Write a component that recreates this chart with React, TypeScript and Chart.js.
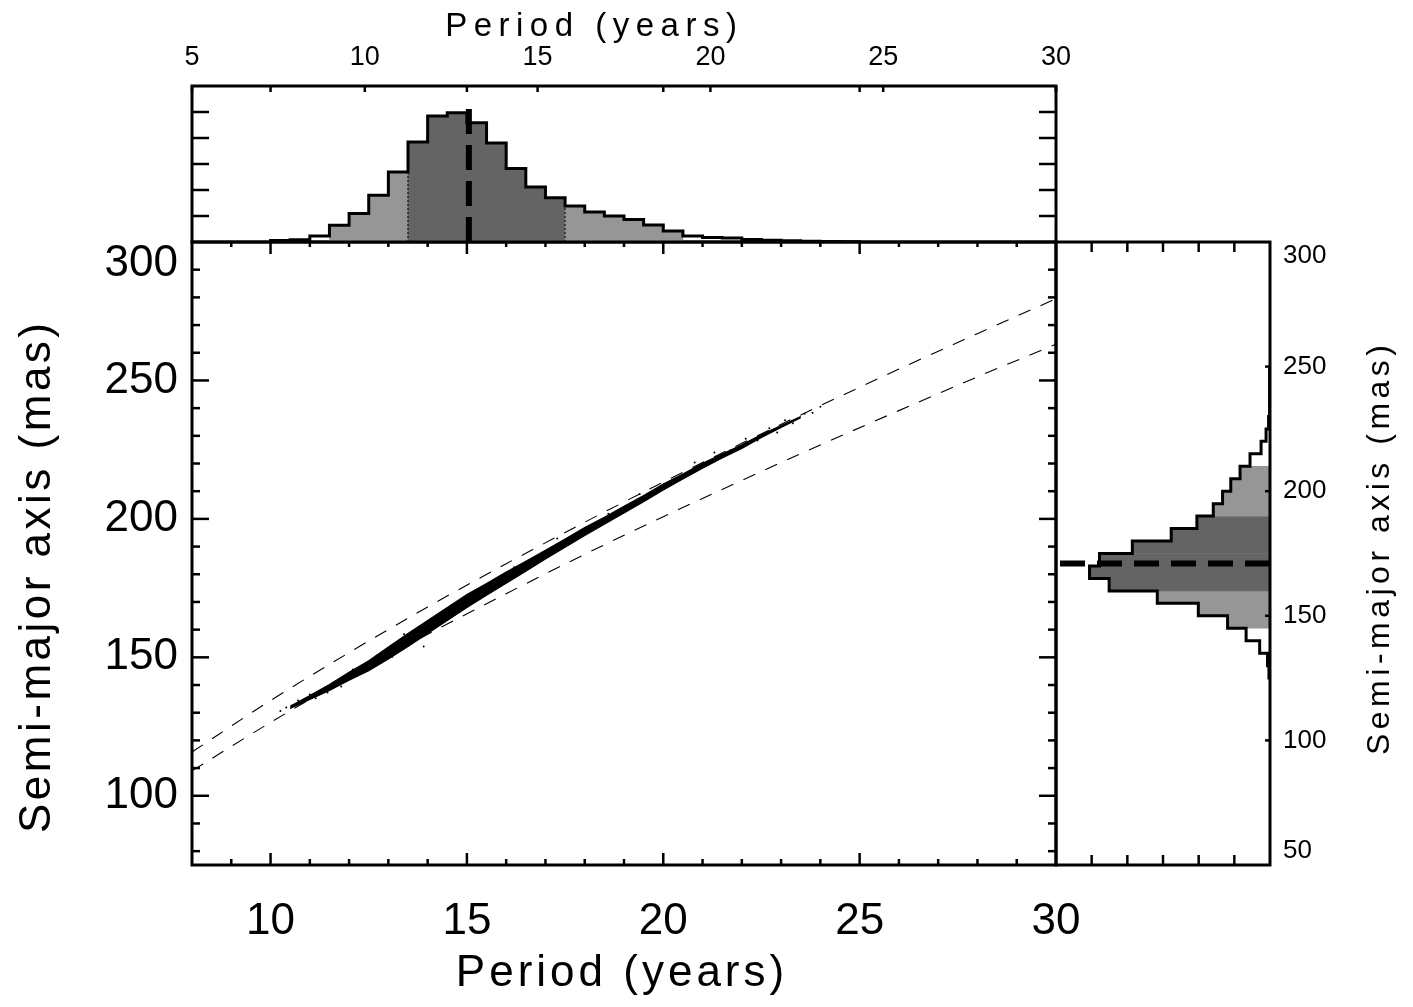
import React, { useEffect, useRef } from 'react';
import { Chart, registerables } from 'chart.js';

Chart.register(...registerables);

const W = 1413;
const H = 1007;
const FONT = '"Liberation Sans", Arial, sans-serif';
const DARK = '#646464';
const LIGHT = '#969696';

// ---------------- data ----------------
// top histogram: period (years), bins of 0.5 yr (lower edges), normalised counts
const periodBinStart = [10.0, 10.5, 11.0, 11.5, 12.0, 12.5, 13.0, 13.5, 14.0, 14.5, 15.0, 15.5, 16.0, 16.5, 17.0, 17.5, 18.0, 18.5, 19.0, 19.5, 20.0, 20.5, 21.0, 21.5, 22.0, 22.5, 23.0, 23.5, 24.0, 24.5];
const periodBinWidth = 0.5;
const periodCounts = [0.06, 0.09, 0.23, 0.64, 1.10, 1.80, 2.69, 3.85, 4.85, 4.97, 4.59, 3.81, 2.83, 2.12, 1.70, 1.38, 1.15, 1.00, 0.87, 0.65, 0.42, 0.23, 0.17, 0.15, 0.10, 0.07, 0.05, 0.03, 0.02, 0.01];
const periodMedian = 15.05;
const periodMedianTop = 5.3;
const periodInner = [13.5, 17.5];
const periodOuter = [11.5, 20.5];

// right histogram: semi-major axis (mas), bins of 5 mas (lower edges)
const smaBinStart = [125, 130, 135, 140, 145, 150, 155, 160, 165, 170, 175, 180, 185, 190, 195, 200, 205, 210, 215, 220, 225, 230, 235, 240, 245];
const smaBinWidth = 5;
const smaCounts = [0.03, 0.07, 0.29, 0.67, 1.19, 2.01, 3.16, 4.51, 5.06, 4.78, 3.86, 2.77, 2.05, 1.59, 1.33, 1.10, 0.84, 0.56, 0.25, 0.11, 0.04, 0.02, 0.015, 0.01, 0.005];
const smaMedian = 171;
const smaInner = [160, 190];
const smaOuter = [145, 210];

// dashed envelope curves in the main panel
const keplerPeriods = [8, 10, 12, 14, 16, 18, 20, 22, 24, 26, 28, 30];
const keplerUpperSma = [115.8, 134.4, 151.7, 168.2, 183.8, 198.8, 213.3, 227.3, 240.9, 254.1, 266.9, 279.5];
const keplerLowerSma = [109.0, 126.5, 142.8, 158.3, 173.0, 187.2, 200.8, 213.9, 226.7, 239.1, 251.3, 263.1];

// dense sample band (upper / lower envelope)
const bandPeriods = [10.5, 11, 11.5, 12, 12.5, 13, 13.5, 14, 14.5, 15, 15.5, 16, 16.5, 17, 17.5, 18, 18.5, 19, 19.5, 20, 20.5, 21, 21.5, 22, 22.5, 23, 23.5];
const bandUpperSma = [132.3, 136.2, 140.2, 144.6, 148.8, 153.7, 158.6, 163.3, 168.0, 172.7, 176.7, 180.8, 184.7, 188.7, 192.7, 196.9, 200.6, 204.6, 208.4, 212.6, 216.2, 220.1, 223.4, 226.8, 230.5, 233.7, 237.0];
const bandLowerSma = [131.5, 134.8, 138.0, 141.7, 145.2, 149.4, 153.9, 158.6, 163.3, 168.0, 172.4, 176.8, 181.1, 185.5, 189.8, 194.0, 198.1, 202.1, 206.2, 210.4, 214.4, 218.3, 222.0, 225.4, 229.4, 233.0, 236.5];

// sparse individual samples
const sparsePeriods = [10.25, 10.4, 10.55, 10.7, 10.85, 11.0, 11.15, 11.3, 11.45, 11.6, 11.8, 12.1, 12.4, 12.7, 13.1, 13.4, 13.9, 14.3, 16.2, 17.3, 18.6, 19.4, 20.2, 20.8, 21.3, 21.7, 22.1, 22.4, 22.7, 22.9, 23.1, 23.3, 23.6, 23.8, 24.0];
const sparseSma = [130.6, 131.9, 132.6, 134.4, 133.9, 136.6, 135.2, 138.1, 137.3, 140.6, 139.5, 145.6, 144.9, 150.6, 150.2, 158.3, 153.9, 165.3, 182.5, 192.9, 201.9, 209.0, 212.8, 220.4, 224.0, 224.7, 228.9, 228.3, 232.7, 231.2, 235.6, 234.5, 238.0, 238.3, 240.5];

// tick labels
const mainXTicks = [10, 15, 20, 25, 30];
const mainYTicks = [100, 150, 200, 250, 300];
const topXTicks = [5, 10, 15, 20, 25, 30];
const rightYTicks = [50, 100, 150, 200, 250, 300];
const histCountTicks = [1, 2, 3, 4, 5];

const xTitle = 'Period (years)';
const yTitle = 'Semi-major axis (mas)';

// ---------------- helpers ----------------
const range = (a: number, b: number, s: number) => {
  const out: number[] = [];
  for (let v = a; v <= b + 1e-9; v += s) out.push(Math.round(v * 100) / 100);
  return out;
};
const mainXMinor = range(9, 29, 1);
const mainYMinor = range(80, 290, 10);

function binFill(lo: number, hi: number, inner: number[], outer: number[]) {
  if (lo >= inner[0] - 1e-9 && hi <= inner[1] + 1e-9) return DARK;
  if (lo >= outer[0] - 1e-9 && hi <= outer[1] + 1e-9) return LIGHT;
  return 'rgba(255,255,255,0)';
}

type Side = 'left' | 'right' | 'top' | 'bottom';
interface TickSet { scale: string; side: Side; values: number[]; len: (v: number) => number; }

function drawText(ctx: any, text: string, x: number, y: number, size: number, spacing: number, rotate: boolean) {
  ctx.save();
  ctx.fillStyle = '#000';
  ctx.font = `${size}px ${FONT}`;
  ctx.letterSpacing = `${spacing}px`;
  ctx.textAlign = 'center';
  ctx.textBaseline = 'middle';
  ctx.translate(x, y);
  if (rotate) ctx.rotate(-Math.PI / 2);
  ctx.fillText(text, spacing / 2, 0);
  ctx.restore();
}

function framePlugin(sets: TickSet[], titles: (ctx: any, chart: any) => void) {
  return {
    id: 'idlFrame',
    afterDatasetsDraw(chart: any) {
      const { ctx, chartArea: a } = chart;
      ctx.save();
      ctx.strokeStyle = '#000';
      ctx.lineWidth = 2.5;
      ctx.lineCap = 'butt';
      for (const t of sets) {
        const sc = chart.scales[t.scale];
        for (const v of t.values) {
          const p = sc.getPixelForValue(v);
          const L = t.len(v);
          ctx.beginPath();
          if (t.side === 'left') { ctx.moveTo(a.left, p); ctx.lineTo(a.left + L, p); }
          if (t.side === 'right') { ctx.moveTo(a.right, p); ctx.lineTo(a.right - L, p); }
          if (t.side === 'top') { ctx.moveTo(p, a.top); ctx.lineTo(p, a.top + L); }
          if (t.side === 'bottom') { ctx.moveTo(p, a.bottom); ctx.lineTo(p, a.bottom - L); }
          ctx.stroke();
        }
      }
      ctx.lineWidth = 3;
      ctx.strokeRect(a.left, a.top, a.right - a.left, a.bottom - a.top);
      ctx.restore();
    },
    afterDraw(chart: any) {
      titles(chart.ctx, chart);
    },
  };
}

const hiddenGrid = { display: false, drawTicks: false };
const noBorder = { display: false };
const baseOptions = {
  responsive: false,
  animation: false as const,
  events: [] as any[],
  devicePixelRatio: 1,
};

// ---------------- main panel ----------------
function buildMain(canvas: HTMLCanvasElement) {
  const xy = (xs: number[], ys: number[]) => xs.map((x, i) => ({ x, y: ys[i] }));
  return new Chart(canvas, {
    type: 'scatter',
    data: {
      datasets: [
        { data: xy(keplerPeriods, keplerUpperSma), showLine: true, borderColor: '#000', borderWidth: 1.1, borderDash: [13, 11], pointRadius: 0, cubicInterpolationMode: 'monotone', fill: false } as any,
        { data: xy(keplerPeriods, keplerLowerSma), showLine: true, borderColor: '#000', borderWidth: 1.1, borderDash: [13, 11], pointRadius: 0, cubicInterpolationMode: 'monotone', fill: false } as any,
        { data: xy(bandPeriods, bandUpperSma), showLine: true, borderColor: '#000', backgroundColor: '#000', borderWidth: 1.2, pointRadius: 0, fill: '+1' } as any,
        { data: xy(bandPeriods, bandLowerSma), showLine: true, borderColor: '#000', borderWidth: 1.2, pointRadius: 0, fill: false } as any,
        { data: xy(sparsePeriods, sparseSma), showLine: false, pointRadius: 1, pointBackgroundColor: '#000', pointBorderWidth: 0 } as any,
      ],
    },
    options: {
      ...baseOptions,
      layout: { padding: { left: 0, top: 242, right: W - 1056, bottom: 0 } },
      plugins: { legend: { display: false }, tooltip: { enabled: false } },
      scales: {
        x: {
          type: 'linear', min: 8, max: 30, position: 'bottom',
          afterFit: (s: any) => { s.height = H - 865; },
          afterBuildTicks: (s: any) => { s.ticks = mainXTicks.map((value) => ({ value })); },
          ticks: { autoSkip: false, maxRotation: 0, minRotation: 0, padding: 30, color: '#000', font: { family: FONT, size: 44 }, callback: (v: any) => String(v) },
          grid: hiddenGrid, border: noBorder,
        },
        y: {
          type: 'linear', min: 75, max: 300, position: 'left',
          afterFit: (s: any) => { s.width = 192; },
          afterBuildTicks: (s: any) => { s.ticks = mainYTicks.map((value) => ({ value })); },
          ticks: { autoSkip: false, padding: 14, color: '#000', font: { family: FONT, size: 44, lineHeight: 0.98 }, callback: (v: any) => (v === 300 ? ['', '300'] : String(v)) },
          grid: hiddenGrid, border: noBorder,
        },
      } as any,
    },
    plugins: [
      framePlugin(
        [
          { scale: 'x', side: 'bottom', values: mainXMinor, len: (v) => (v % 5 === 0 ? 12 : 6) },
          { scale: 'x', side: 'top', values: mainXMinor, len: (v) => (v % 5 === 0 ? 12 : 5) },
          { scale: 'y', side: 'left', values: mainYMinor, len: (v) => (v % 50 === 0 ? 17 : 8) },
          { scale: 'y', side: 'right', values: mainYMinor, len: (v) => (v % 50 === 0 ? 17 : 8) },
        ],
        (ctx) => {
          drawText(ctx, xTitle, 620, 974, 44, 4, false);
          drawText(ctx, yTitle, 38, 578, 44, 3.5, true);
        }
      ) as any,
    ],
  });
}

// ---------------- top histogram (period) ----------------
function buildTop(canvas: HTMLCanvasElement) {
  const w = periodBinWidth;
  const outline: { x: number; y: number }[] = [{ x: periodBinStart[0], y: 0 }];
  periodBinStart.forEach((s, i) => { outline.push({ x: s, y: periodCounts[i] }, { x: s + w, y: periodCounts[i] }); });
  outline.push({ x: periodBinStart[periodBinStart.length - 1] + w, y: 0 });
  const iL = periodBinStart.indexOf(periodInner[0]);
  const iR = periodBinStart.indexOf(periodInner[1]);
  const hL = Math.min(periodCounts[iL - 1], periodCounts[iL]);
  const hR = Math.min(periodCounts[iR - 1], periodCounts[iR]);
  return new Chart(canvas, {
    type: 'bar',
    data: {
      datasets: [
        {
          type: 'bar', xAxisID: 'x', yAxisID: 'y', order: 10,
          data: periodBinStart.map((s, i) => ({ x: s + w / 2, y: periodCounts[i] })),
          backgroundColor: periodBinStart.map((s) => binFill(s, s + w, periodInner, periodOuter)),
          borderWidth: 0, barPercentage: 1, categoryPercentage: 1,
        } as any,
        { type: 'scatter', order: 5, xAxisID: 'x', yAxisID: 'y', data: [{ x: periodInner[0], y: 0 }, { x: periodInner[0], y: hL }], showLine: true, borderColor: '#000', borderWidth: 1, borderDash: [2, 2], pointRadius: 0 } as any,
        { type: 'scatter', order: 5, xAxisID: 'x', yAxisID: 'y', data: [{ x: periodInner[1], y: 0 }, { x: periodInner[1], y: hR }], showLine: true, borderColor: '#000', borderWidth: 1, borderDash: [2, 2], pointRadius: 0 } as any,
        { type: 'scatter', order: 2, xAxisID: 'x', yAxisID: 'y', data: outline, showLine: true, borderColor: '#000', borderWidth: 3, borderJoinStyle: 'miter', pointRadius: 0 } as any,
        { type: 'scatter', order: 1, xAxisID: 'x', yAxisID: 'y', data: [{ x: periodMedian, y: 0 }, { x: periodMedian, y: periodMedianTop }], showLine: true, borderColor: '#000', borderWidth: 6, borderDash: [25, 11], borderCapStyle: 'butt', pointRadius: 0 } as any,
      ],
    },
    options: {
      ...baseOptions,
      layout: { padding: { left: 192, top: 0, right: W - 1056, bottom: H - 242 } },
      plugins: { legend: { display: false }, tooltip: { enabled: false } },
      scales: {
        x: { type: 'linear', min: 8, max: 30, offset: false, display: false, grid: { offset: false } },
        xTop: {
          type: 'linear', axis: 'x', min: 5, max: 30, position: 'top', offset: false,
          afterFit: (s: any) => { s.height = 86; },
          afterBuildTicks: (s: any) => { s.ticks = topXTicks.map((value) => ({ value })); },
          ticks: { autoSkip: false, maxRotation: 0, minRotation: 0, padding: 12, color: '#000', font: { family: FONT, size: 27 }, callback: (v: any) => String(v) },
          grid: { ...hiddenGrid, offset: false }, border: noBorder,
        },
        y: { type: 'linear', min: 0, max: 6, display: false },
      } as any,
    },
    plugins: [
      framePlugin(
        [
          { scale: 'y', side: 'left', values: histCountTicks, len: () => 17 },
          { scale: 'y', side: 'right', values: histCountTicks, len: () => 17 },
          { scale: 'xTop', side: 'top', values: topXTicks, len: () => 6 },
          { scale: 'x', side: 'top', values: mainXTicks, len: () => 6 },
        ],
        (ctx) => {
          drawText(ctx, xTitle, 591, 27, 33, 6.5, false);
        }
      ) as any,
    ],
  });
}

// ---------------- right histogram (semi-major axis) ----------------
function buildRight(canvas: HTMLCanvasElement) {
  const w = smaBinWidth;
  const outline: { x: number; y: number }[] = [{ x: 0, y: smaBinStart[0] }];
  smaBinStart.forEach((s, i) => { outline.push({ x: smaCounts[i], y: s }, { x: smaCounts[i], y: s + w }); });
  outline.push({ x: 0, y: smaBinStart[smaBinStart.length - 1] + w });
  return new Chart(canvas, {
    type: 'bar',
    data: {
      datasets: [
        {
          type: 'bar', indexAxis: 'y', xAxisID: 'x', yAxisID: 'y', order: 10,
          data: smaBinStart.map((s, i) => ({ x: smaCounts[i], y: s + w / 2 })),
          backgroundColor: smaBinStart.map((s) => binFill(s, s + w, smaInner, smaOuter)),
          borderWidth: 0, barPercentage: 1, categoryPercentage: 1,
        } as any,
        { type: 'scatter', order: 2, xAxisID: 'x', yAxisID: 'y', data: outline, showLine: true, borderColor: '#000', borderWidth: 3, borderJoinStyle: 'miter', pointRadius: 0 } as any,
        { type: 'scatter', order: 1, xAxisID: 'x', yAxisID: 'y', data: [{ x: 0, y: smaMedian }, { x: 6, y: smaMedian }], showLine: true, borderColor: '#000', borderWidth: 6, borderDash: [25, 12], borderCapStyle: 'butt', pointRadius: 0 } as any,
      ],
    },
    options: {
      ...baseOptions,
      layout: { padding: { left: 1056, top: 242, right: 0, bottom: H - 865 } },
      plugins: { legend: { display: false }, tooltip: { enabled: false } },
      scales: {
        x: { type: 'linear', min: 0, max: 6, reverse: true, offset: false, display: false },
        y: {
          type: 'linear', min: 50, max: 300, position: 'right', offset: false,
          afterFit: (s: any) => { s.width = W - 1270; },
          afterBuildTicks: (s: any) => { s.ticks = rightYTicks.map((value) => ({ value })); },
          ticks: { autoSkip: false, padding: 13, color: '#000', font: { family: FONT, size: 26, lineHeight: 1.1 }, callback: (v: any) => (v === 300 ? ['', '300'] : v === 50 ? ['50', ''] : String(v)) },
          grid: { ...hiddenGrid, offset: false }, border: noBorder,
        },
      } as any,
    },
    plugins: [
      framePlugin(
        [
          { scale: 'x', side: 'top', values: histCountTicks, len: () => 10 },
          { scale: 'x', side: 'bottom', values: histCountTicks, len: () => 10 },
          { scale: 'y', side: 'right', values: [100, 150, 200, 250], len: () => 5 },
        ],
        (ctx) => {
          drawText(ctx, yTitle, 1380, 550, 32, 4.5, true);
        }
      ) as any,
    ],
  });
}

function Layer({ build }: { build: (c: HTMLCanvasElement) => Chart }) {
  const ref = useRef<HTMLCanvasElement>(null);
  useEffect(() => {
    const chart = build(ref.current as HTMLCanvasElement);
    return () => chart.destroy();
  }, [build]);
  return (
    <canvas
      ref={ref}
      width={W}
      height={H}
      style={{ position: 'absolute', left: 0, top: 0, width: W, height: H }}
    />
  );
}

export default function App() {
  return (
    <div style={{ position: 'absolute', left: 0, top: 0, width: W, height: H, background: '#fff', overflow: 'hidden' }}>
      <Layer build={buildMain} />
      <Layer build={buildTop} />
      <Layer build={buildRight} />
    </div>
  );
}
